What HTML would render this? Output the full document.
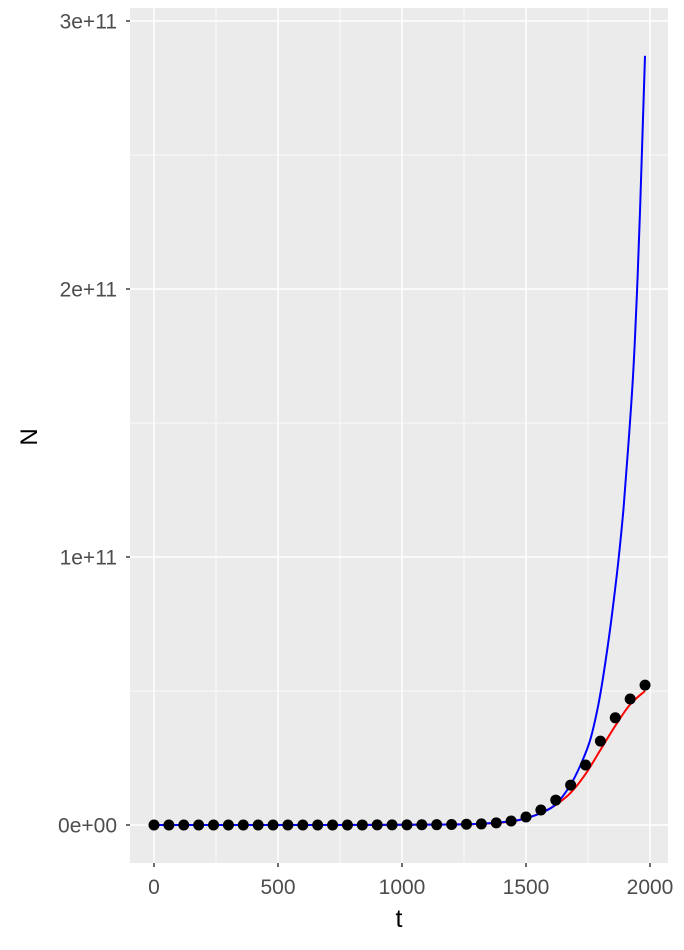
<!DOCTYPE html>
<html><head><meta charset="utf-8"><style>
html,body{margin:0;padding:0;background:#fff;}
svg{display:block;font-family:"Liberation Sans",sans-serif;}
</style></head><body>
<svg id="chart" width="684" height="950" viewBox="0 0 684 950" xmlns="http://www.w3.org/2000/svg">
<rect x="130" y="8" width="538" height="855" fill="#ebebeb"/>
<g id="grid"></g>
<g id="series"></g>
<g id="axes"></g>
<text x="399" y="927" font-size="25" text-anchor="middle" fill="#000">t</text>
<text transform="translate(37,437) rotate(-90)" font-size="24" text-anchor="middle" fill="#000">N</text>
</svg>
<script>
const pointT=[0,60,120,180,240,300,360,420,480,540,600,660,720,780,840,900,960,1020,1080,1140,1200,1260,1320,1380,1440,1500,1560,1620,1680,1740,1800,1860,1920,1980];
const pointN=[0,0,0,0,0,0,0,0,0,0,0,0,0,0,0.0002,0.0003,0.0004,0.0006,0.0008,0.0012,0.002,0.003,0.004,0.008,0.015,0.03,0.056,0.093,0.149,0.224,0.313,0.40,0.47,0.522];
const blueT=[0,300,600,900,1200,1320,1440,1500,1573,1623,1677,1718,1758,1792,1819,1846,1873,1893,1913,1933,1947,1960,1980];
const blueN=[0,0,0,0.0005,0.002,0.005,0.014,0.025,0.05,0.08,0.146,0.22,0.315,0.45,0.60,0.78,0.99,1.18,1.42,1.70,1.98,2.30,2.87];
const redT=[0,300,600,900,1200,1320,1440,1500,1560,1620,1680,1740,1800,1860,1920,1980];
const redN=[0,0,0,0.0005,0.002,0.004,0.013,0.025,0.045,0.075,0.12,0.19,0.28,0.37,0.45,0.50];
const xTicks=[0,500,1000,1500,2000];
const xMinor=[250,750,1250,1750];
const yTicks=[0,1,2,3];
const yTickLabels=["0e+00","1e+11","2e+11","3e+11"];
const yMinor=[0.5,1.5,2.5];

const NS="http://www.w3.org/2000/svg";
const X=t=>154+t*0.248;
const Y=v=>825-v*268;
function mk(tag,attrs,parent){const e=document.createElementNS(NS,tag);for(const k in attrs)e.setAttribute(k,attrs[k]);parent.appendChild(e);return e;}
const grid=document.getElementById('grid'),series=document.getElementById('series'),axes=document.getElementById('axes');
xMinor.forEach(t=>{const l=mk('line',{x1:X(t),x2:X(t),y1:8,y2:863,stroke:'#fff','stroke-width':0.7},grid);

});
yMinor.forEach(v=>{const l=mk('line',{x1:130,x2:668,y1:Y(v),y2:Y(v),stroke:'#fff','stroke-width':0.7},grid);

});
xTicks.forEach(t=>{const l=mk('line',{x1:X(t),x2:X(t),y1:8,y2:863,stroke:'#fff','stroke-width':1.4},grid);


const tk=mk('line',{x1:X(t),x2:X(t),y1:863,y2:867,stroke:'#333','stroke-width':1.4},axes);


const tx=mk('text',{x:X(t),y:894,'font-size':21,'text-anchor':'middle',fill:'#4d4d4d'},axes);tx.textContent=t;

});
yTicks.forEach((v,i)=>{const l=mk('line',{x1:130,x2:668,y1:Y(v),y2:Y(v),stroke:'#fff','stroke-width':1.4},grid);


const tk=mk('line',{x1:126,x2:130,y1:Y(v),y2:Y(v),stroke:'#333','stroke-width':1.4},axes);


const tx=mk('text',{x:117,y:Y(v)+7.5,'font-size':21,'text-anchor':'end',fill:'#4d4d4d'},axes);tx.textContent=yTickLabels[i];

});
function path(ts,ns){
  const p=ts.map((t,i)=>[X(t),Y(ns[i])]);
  let d='M'+p[0][0].toFixed(1)+','+p[0][1].toFixed(1);
  for(let i=0;i<p.length-1;i++){
    const p0=p[Math.max(i-1,0)],p1=p[i],p2=p[i+1],p3=p[Math.min(i+2,p.length-1)];
    const c1=[p1[0]+(p2[0]-p0[0])/6,p1[1]+(p2[1]-p0[1])/6];
    const c2=[p2[0]-(p3[0]-p1[0])/6,p2[1]-(p3[1]-p1[1])/6];
    d+='C'+c1[0].toFixed(1)+','+c1[1].toFixed(1)+' '+c2[0].toFixed(1)+','+c2[1].toFixed(1)+' '+p2[0].toFixed(1)+','+p2[1].toFixed(1);
  }
  return d;
}
const red=mk('path',{d:path(redT,redN),fill:'none',stroke:'#ff0000','stroke-width':2},series);


const blue=mk('path',{d:path(blueT,blueN),fill:'none',stroke:'#0000ff','stroke-width':2},series);


pointT.forEach((t,i)=>{const c=mk('circle',{cx:X(t),cy:Y(pointN[i]),r:5.5,fill:'#000'},series);

});
</script>
</body></html>
